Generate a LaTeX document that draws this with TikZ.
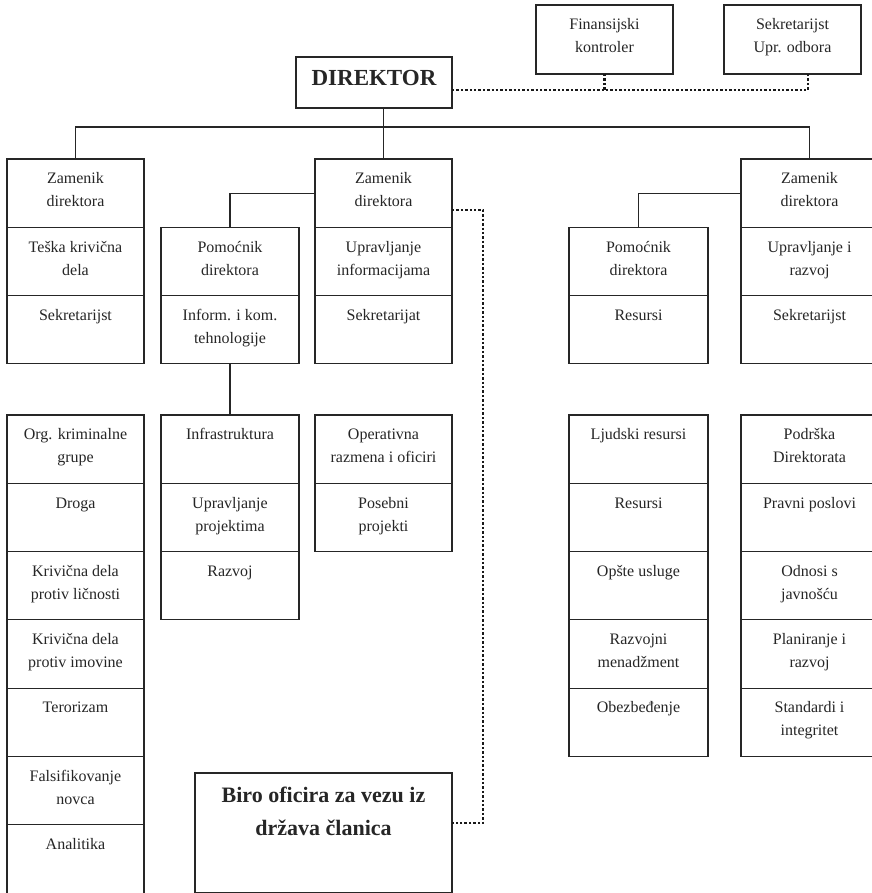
\documentclass[tikz,border=0pt]{standalone}
\usepackage{fontspec}
\setmainfont{Liberation Serif}
\usetikzlibrary{calc}
\tikzset{
  cellbox/.style={draw=black!85, line width=1.1pt, minimum width=137pt, minimum height=68.3pt, anchor=north west, inner sep=0pt, outer sep=0pt},
  celltext/.style={anchor=north, inner sep=0pt, align=center, font=\fontsize{16}{23}\selectfont, text=black!85},
  conn/.style={draw=black!85, line width=1.1pt},
  dotline/.style={draw=black!90, line width=2.4pt, dash pattern=on 2.4pt off 2pt},
  bigtext/.style={inner sep=0pt, align=center, font=\bfseries\fontsize{22}{33}\selectfont, text=black!85},
}
\newcommand\cellnode[6]{%
  \node[cellbox, minimum width=#4pt, minimum height=#5pt] (#1) at (#2,#3) {};
  \node[celltext] (#1t) at ([yshift=-8.4pt]#1.north) {\strut #6};
}
\begin{document}
\begin{tikzpicture}[x=1pt,y=-1pt]
\useasboundingbox (0,0) rectangle (871,893);
\fill[white] (0,0) rectangle (871,893);

% top boxes
\node[cellbox, minimum width=156pt, minimum height=51pt] (dir) at (296,57) {};
\node[bigtext, anchor=base, font=\bfseries\fontsize{23}{33}\selectfont] (dirt) at (374,86) {DIREKTOR};
\cellnode{fin}{536}{5}{137}{69}{Finansijski\\kontroler}
\cellnode{sek}{724}{5}{137}{69}{Sekretarijst\\Upr. odbora}

% column A upper
\cellnode{zamA}{7}{159}{137}{68.3}{Zamenik\\direktora}
\cellnode{tesA}{7}{227.3}{137}{68.3}{Teška krivična\\dela}
\cellnode{sekA}{7}{295.6}{137}{68.3}{Sekretarijst}
% column C upper
\cellnode{zamC}{315}{159}{137}{68.3}{Zamenik\\direktora}
\cellnode{uprC}{315}{227.3}{137}{68.3}{Upravljanje\\informacijama}
\cellnode{sekC}{315}{295.6}{137}{68.3}{Sekretarijat}
% column B upper
\cellnode{pomB}{161}{227.3}{138}{68.3}{Pomoćnik\\direktora}
\cellnode{tehB}{161}{295.6}{138}{68.3}{Inform. i kom.\\tehnologije}
% column D upper
\cellnode{pomD}{569}{227.3}{139}{68.3}{Pomoćnik\\direktora}
\cellnode{resD}{569}{295.6}{139}{68.3}{Resursi}
% column E upper
\cellnode{zamE}{741}{159}{137}{68.3}{Zamenik\\direktora}
\cellnode{uprE}{741}{227.3}{137}{68.3}{Upravljanje i\\razvoj}
\cellnode{sekE}{741}{295.6}{137}{68.3}{Sekretarijst}

% column A lower
\cellnode{a1}{7}{415}{137}{68.3}{Org. kriminalne\\grupe}
\cellnode{a2}{7}{483.3}{137}{68.3}{Droga}
\cellnode{a3}{7}{551.6}{137}{68.3}{Krivična dela\\protiv ličnosti}
\cellnode{a4}{7}{619.9}{137}{68.3}{Krivična dela\\protiv imovine}
\cellnode{a5}{7}{688.2}{137}{68.3}{Terorizam}
\cellnode{a6}{7}{756.5}{137}{68.3}{Falsifikovanje\\novca}
\cellnode{a7}{7}{824.8}{137}{68.3}{Analitika}
% column B lower
\cellnode{infra}{161}{415}{138}{68.3}{Infrastruktura}
\cellnode{b2}{161}{483.3}{138}{68.3}{Upravljanje\\projektima}
\cellnode{b3}{161}{551.6}{138}{68.3}{Razvoj}
% column C lower
\cellnode{c1}{315}{415}{137}{68.3}{Operativna\\razmena i oficiri}
\cellnode{c2}{315}{483.3}{137}{68.3}{Posebni\\projekti}
% column D lower
\cellnode{d1}{569}{415}{139}{68.3}{Ljudski resursi}
\cellnode{d2}{569}{483.3}{139}{68.3}{Resursi}
\cellnode{d3}{569}{551.6}{139}{68.3}{Opšte usluge}
\cellnode{d4}{569}{619.9}{139}{68.3}{Razvojni\\menadžment}
\cellnode{d5}{569}{688.2}{139}{68.3}{Obezbeđenje}
% column E lower
\cellnode{e1}{741}{415}{137}{68.3}{Podrška\\Direktorata}
\cellnode{e2}{741}{483.3}{137}{68.3}{Pravni poslovi}
\cellnode{e3}{741}{551.6}{137}{68.3}{Odnosi s\\javnošću}
\cellnode{e4}{741}{619.9}{137}{68.3}{Planiranje i\\razvoj}
\cellnode{e5}{741}{688.2}{137}{68.3}{Standardi i\\integritet}

% Biro
\node[cellbox, minimum width=257pt, minimum height=120pt] (biro) at (195,773) {};
\node[bigtext, anchor=north] (birot) at ([yshift=-5.9pt]biro.north) {\strut Biro oficira za vezu iz\\država članica};

% solid connectors
\coordinate (bus) at (383,127);
\draw[conn] (dir.south -| zamC.north) -- (zamC.north);
\draw[conn] (zamA.north) |- (bus) -| (zamE.north);
\draw[conn] (zamC.west) -| (pomB.north);
\draw[conn] (zamE.west) -| (pomD.north);
\draw[conn] (tehB.south) -- (infra.north);

% dotted connectors
\coordinate (dl) at ([yshift=-7.5pt]dir.east);
\draw[dotline] (dl) -| ([xshift=15.5pt]sek.south);
\draw[dotline] (fin.south) -- (fin.south |- dl);
\coordinate (dm) at ([yshift=-17pt]zamC.east);
\coordinate (dv) at ([xshift=31pt]dm);
\draw[dotline] (dm) -- (dv) |- ([yshift=10pt]biro.east);
\end{tikzpicture}
\end{document}
